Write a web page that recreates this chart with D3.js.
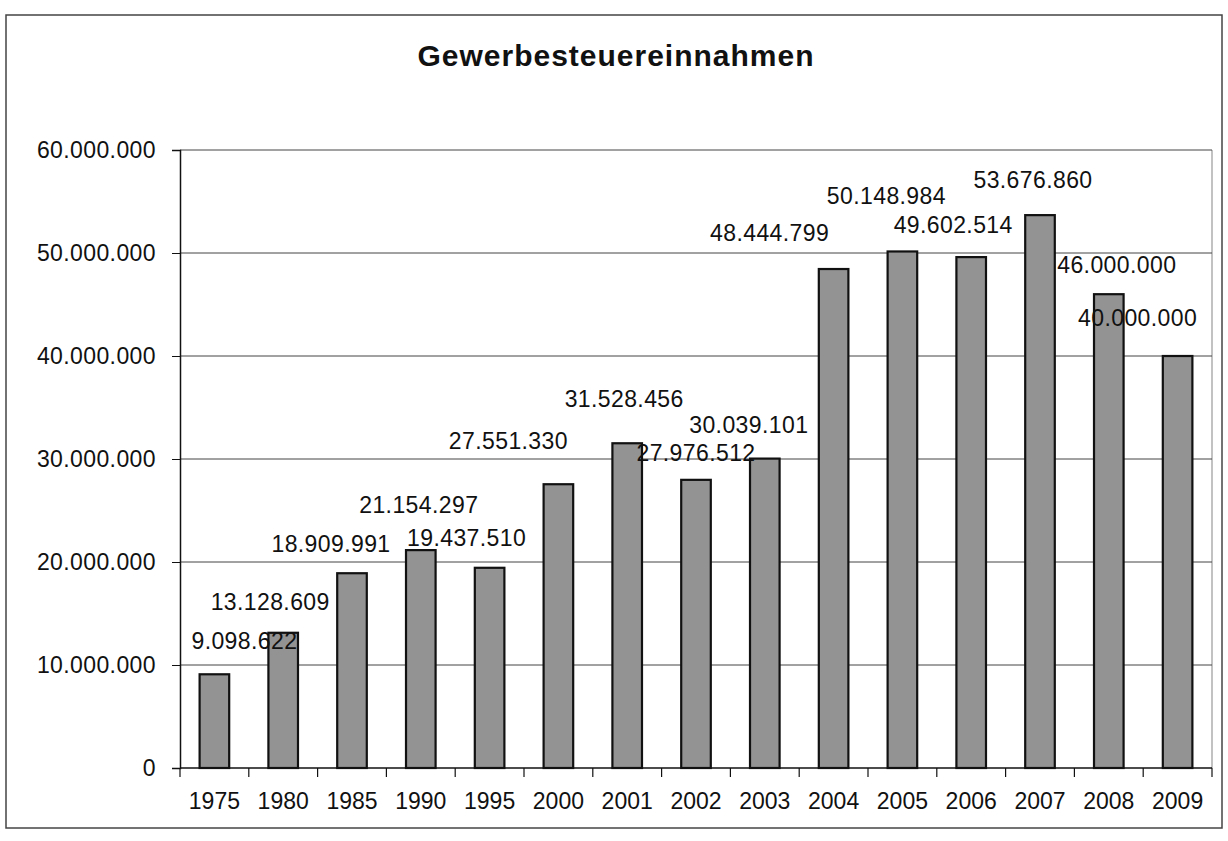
<!DOCTYPE html>
<html>
<head>
<meta charset="utf-8">
<script src="https://cdn.jsdelivr.net/npm/d3@7"></script>
<style>
  body { margin: 0; background: #fff; }
  text { font-family: "Liberation Sans", Arial, sans-serif; fill: #111; }
</style>
</head>
<body>
<div id="chart"></div>
<script>
// data
const years = ["1975","1980","1985","1990","1995","2000","2001","2002","2003","2004","2005","2006","2007","2008","2009"];
const revenue = [9098622, 13128609, 18909991, 21154297, 19437510, 27551330, 31528456, 27976512, 30039101, 48444799, 50148984, 49602514, 53676860, 46000000, 40000000];
const yTicks = [0, 10000000, 20000000, 30000000, 40000000, 50000000, 60000000];

// hand-placed label nudges (px from bar centre / bar top), as in the original
const labelDx = [30, -13, -21, -2, -23, -50, -3, 0, -16, -64, -16, -18, -7, 8, -40];
const labelDy = [-34, -31, -30, -45, -30, -44, -45, -27, -34, -36, -56, -32, -35, -29, -38];

const W = 1228, H = 841;
const margin = {left: 180, right: 16, top: 150, bottom: 73};

const de = d3.formatLocale({decimal: ",", thousands: ".", grouping: [3], currency: ["", " €"]});
const fmt = de.format(",.0f");

const svg = d3.select("#chart").append("svg")
    .attr("width", W)
    .attr("height", H);

// outer chart frame
svg.append("rect")
    .attr("x", 6).attr("y", 15)
    .attr("width", 1216).attr("height", 813)
    .attr("fill", "none")
    .attr("stroke", "#444")
    .attr("stroke-width", 1.5);

svg.append("text")
    .attr("x", 616)
    .attr("y", 66)
    .attr("text-anchor", "middle")
    .style("font-size", "30px")
    .style("font-weight", "bold")
    .style("letter-spacing", "1px")
    .text("Gewerbesteuereinnahmen");

const x = d3.scaleBand()
    .domain(years)
    .range([margin.left, W - margin.right])
    .paddingInner(0.57)
    .paddingOuter(0.285);

const y = d3.scaleLinear()
    .domain([0, 60000000])
    .range([H - margin.bottom, margin.top]);

// plot area border (right side light)
svg.append("line")
    .attr("x1", W - margin.right).attr("x2", W - margin.right)
    .attr("y1", y(60000000)).attr("y2", y(0))
    .attr("stroke", "#999").attr("stroke-width", 1.2);

// gridlines
svg.append("g").selectAll("line")
    .data(yTicks.filter(d => d > 0))
    .enter().append("line")
    .attr("x1", margin.left).attr("x2", W - margin.right)
    .attr("y1", d => y(d)).attr("y2", d => y(d))
    .attr("stroke", "#444")
    .attr("stroke-width", 1);

// y axis
const yAxis = svg.append("g")
    .attr("transform", `translate(${margin.left},0)`)
    .call(d3.axisLeft(y).tickValues(yTicks).tickFormat(fmt).tickSize(8).tickPadding(16));
yAxis.select(".domain").attr("stroke", "#111").attr("stroke-width", 1.5);
yAxis.selectAll(".tick line").attr("stroke", "#111");
yAxis.selectAll(".tick text")
    .style("font-size", "23px")
    .style("letter-spacing", "0.4px")
    .attr("fill", "#111");

// x axis: line + ticks at category boundaries
svg.append("line")
    .attr("x1", margin.left).attr("x2", W - margin.right)
    .attr("y1", y(0)).attr("y2", y(0))
    .attr("stroke", "#111").attr("stroke-width", 1.5);

svg.append("g").selectAll("line")
    .data(d3.range(years.length + 1))
    .enter().append("line")
    .attr("x1", i => x.range()[0] + i * x.step())
    .attr("x2", i => x.range()[0] + i * x.step())
    .attr("y1", y(0)).attr("y2", y(0) + 9)
    .attr("stroke", "#111").attr("stroke-width", 1.2);

const xAxis = svg.append("g")
    .attr("transform", `translate(0,${y(0)})`)
    .call(d3.axisBottom(x).tickSize(0).tickPadding(25));
xAxis.select(".domain").remove();
xAxis.selectAll(".tick text")
    .style("font-size", "23px")
    .attr("fill", "#111");

// bars
svg.append("g").selectAll("rect")
    .data(revenue)
    .enter().append("rect")
    .attr("x", (d, i) => x(years[i]))
    .attr("y", d => y(d))
    .attr("width", x.bandwidth())
    .attr("height", d => y(0) - y(d))
    .attr("fill", "#939393")
    .attr("stroke", "#111")
    .attr("stroke-width", 2.2);

// data labels
svg.append("g").selectAll("text")
    .data(revenue)
    .enter().append("text")
    .attr("x", (d, i) => x(years[i]) + x.bandwidth() / 2 + labelDx[i])
    .attr("y", (d, i) => y(d) + labelDy[i])
    .attr("dy", "0.36em")
    .attr("text-anchor", "middle")
    .style("font-size", "23px")
    .style("letter-spacing", "0.4px")
    .text(d => fmt(d));
</script>
</body>
</html>
